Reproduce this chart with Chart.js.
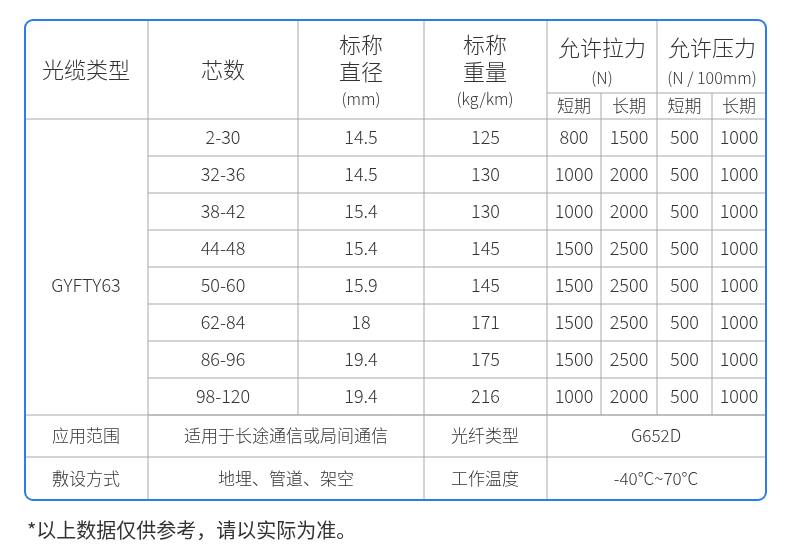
<!DOCTYPE html><html><head><meta charset="utf-8">
<script src="https://cdn.jsdelivr.net/npm/chart.js@4"></script>
<style>html,body{margin:0;padding:0;background:#fff}#w{width:790px;height:559px;position:relative}</style>
</head><body><div id="w"><canvas id="c"></canvas></div>
<script>
const cores=["2-30","32-36","38-42","44-48","50-60","62-84","86-96","98-120"];
const diameters=["14.5","14.5","15.4","15.4","15.9","18","19.4","19.4"];
const weights=[125,130,130,145,145,171,175,216];
const tensileShort=[800,1000,1000,1500,1500,1500,1500,1000];
const tensileLong=[1500,2000,2000,2500,2500,2500,2500,2000];
const crushShort=[500,500,500,500,500,500,500,500];
const crushLong=[1000,1000,1000,1000,1000,1000,1000,1000];
const cableType="GYFTY63";
const F="'Noto Sans CJK SC','Noto Sans',sans-serif";
const colX=[25,148,298,424,547,601,657,712,766];
const rowY=[119,156,193,230,267,304,341,378,415];
const tablePlugin={id:'table',afterDraw(ch){
 const c=ch.ctx,X=v=>ch.scales.x.getPixelForValue(v),Y=v=>ch.scales.y.getPixelForValue(v);
 c.save();
 const line=(x1,y1,x2,y2)=>{c.beginPath();c.moveTo(X(x1),Y(y1));c.lineTo(X(x2),Y(y2));c.stroke();};
 c.strokeStyle='#a8a8a8';c.lineWidth=1;
 line(25,119,766,119);
 for(let i=1;i<rowY.length;i++) line(148,rowY[i],766,rowY[i]);
 line(25,415,766,415);line(25,457,766,457);
 line(547,93,766,93);
 [148,298,424,547,657].forEach(x=>line(x,20,x,415));
 [601,712].forEach(x=>line(x,93,x,415));
 [148,424,547].forEach(x=>line(x,415,x,500));
 c.strokeStyle='#2b7de9';c.lineWidth=2;
 c.beginPath();c.roundRect(X(25),Y(20),X(766)-X(25),Y(500)-Y(20),8);c.stroke();
 c.fillStyle='#333';c.textAlign='center';c.textBaseline='middle';
 const t=(s,x,y,sz,w)=>{c.font=(w||'300')+' '+sz+'px '+F;c.fillText(s,X(x),Y(y));};
 t('光缆类型',86,70,22);t('芯数',223,70,22);
 t('标称',361,45,22);t('直径',361,72,22);t('(mm)',361,99,16);
 t('标称',485,45,22);t('重量',485,72,22);t('(kg/km)',485,99,16);
 t('允许拉力',602,48,22);t('(N)',602,78,16);
 t('允许压力',712,48,22);t('(N / 100mm)',712,78,16);
 ['短期','长期','短期','长期'].forEach((s,i)=>t(s,(colX[i+4]+colX[i+5])/2,106,17));
 t(cableType,86,285,18);
 for(let i=0;i<cores.length;i++){
  const y=(rowY[i]+rowY[i+1])/2;
  const vals=[cores[i],diameters[i],weights[i],tensileShort[i],tensileLong[i],crushShort[i],crushLong[i]];
  vals.forEach((v,j)=>t(String(v),(colX[j+1]+colX[j+2])/2,y,18));
 }
 t('应用范围',86,436,17);t('适用于长途通信或局间通信',286,436,17);t('光纤类型',485,436,17);t('G652D',656,436,17);
 t('敷设方式',86,479,17);t('地埋、管道、架空',286,479,17);t('工作温度',485,479,17);t('-40°C~70°C',656,479,17);
 c.textAlign='left';c.font='20px '+F;c.fillText('*以上数据仅供参考，请以实际为准。',X(27),Y(530));
 c.restore();
}};
new Chart(document.getElementById('c'),{type:'scatter',data:{datasets:[{data:[]}]},
 options:{responsive:true,maintainAspectRatio:false,animation:false,layout:{padding:0},
 plugins:{legend:{display:false},tooltip:{enabled:false}},
 scales:{x:{type:'linear',min:0,max:790,display:false},y:{type:'linear',min:0,max:559,reverse:true,display:false}}},
 plugins:[tablePlugin]});
</script></body></html>
